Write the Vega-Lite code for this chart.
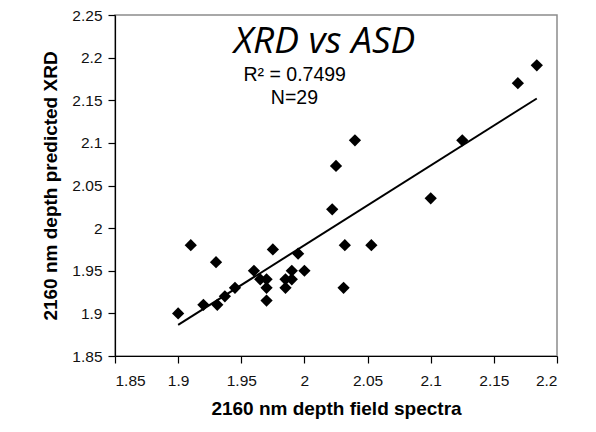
{
  "$schema": "https://vega.github.io/schema/vega-lite/v6.json",
  "width": 442,
  "height": 341,
  "autosize": "none",
  "padding": {"left": 115, "top": 15, "right": 39, "bottom": 76},
  "background": "white",
  "config": {
    "view": {"stroke": "#8c8c8c", "strokeWidth": 1.5},
    "axis": {
      "grid": false,
      "domainColor": "black",
      "domainWidth": 1.2,
      "tickColor": "black",
      "tickWidth": 1.2,
      "tickSize": 7,
      "labelFont": "Liberation Sans",
      "labelFontSize": 15.5,
      "labelColor": "#111",
      "titleFont": "Liberation Sans",
      "titleFontSize": 19,
      "titleFontWeight": "bold",
      "titleColor": "black"
    }
  },
  "datasets": {
    "points": [
      {"asd": 1.900, "xrd": 1.900},
      {"asd": 1.910, "xrd": 1.980},
      {"asd": 1.920, "xrd": 1.910},
      {"asd": 1.930, "xrd": 1.960},
      {"asd": 1.931, "xrd": 1.910},
      {"asd": 1.937, "xrd": 1.920},
      {"asd": 1.945, "xrd": 1.930},
      {"asd": 1.960, "xrd": 1.950},
      {"asd": 1.965, "xrd": 1.940},
      {"asd": 1.970, "xrd": 1.940},
      {"asd": 1.970, "xrd": 1.930},
      {"asd": 1.970, "xrd": 1.915},
      {"asd": 1.975, "xrd": 1.975},
      {"asd": 1.985, "xrd": 1.930},
      {"asd": 1.985, "xrd": 1.940},
      {"asd": 1.990, "xrd": 1.950},
      {"asd": 1.990, "xrd": 1.940},
      {"asd": 1.995, "xrd": 1.970},
      {"asd": 2.000, "xrd": 1.950},
      {"asd": 2.022, "xrd": 2.022},
      {"asd": 2.025, "xrd": 2.073},
      {"asd": 2.032, "xrd": 1.980},
      {"asd": 2.031, "xrd": 1.930},
      {"asd": 2.040, "xrd": 2.103},
      {"asd": 2.053, "xrd": 1.980},
      {"asd": 2.100, "xrd": 2.035},
      {"asd": 2.125, "xrd": 2.103},
      {"asd": 2.169, "xrd": 2.170},
      {"asd": 2.184, "xrd": 2.191}
    ],
    "heading": [
      {"asd": 2.0159, "xrd": 2.2054, "label": "XRD vs ASD"}
    ],
    "stats": [
      {"asd": 1.9923, "xrd": 2.1729, "label": "R² = 0.7499"},
      {"asd": 1.9921, "xrd": 2.1452, "label": "N=29"}
    ]
  },
  "layer": [
    {
      "data": {"name": "points"},
      "mark": {"type": "point", "shape": "diamond", "filled": true, "color": "black", "opacity": 1, "size": 150},
      "encoding": {
        "x": {
          "field": "asd", "type": "quantitative",
          "scale": {"domain": [1.85, 2.2], "zero": false, "nice": false},
          "axis": {
            "title": "2160 nm depth field spectra",
            "values": [1.85, 1.9, 1.95, 2, 2.05, 2.1, 2.15, 2.2],
            "format": "~g",
            "labelPadding": 10,
            "titlePadding": 11
          }
        },
        "y": {
          "field": "xrd", "type": "quantitative",
          "scale": {"domain": [1.85, 2.25], "zero": false, "nice": false},
          "axis": {
            "title": "2160 nm depth predicted XRD",
            "values": [1.85, 1.9, 1.95, 2, 2.05, 2.1, 2.15, 2.2, 2.25],
            "format": "~g",
            "labelPadding": 6,
            "titlePadding": 11
          }
        }
      }
    },
    {
      "data": {"name": "points"},
      "transform": [{"regression": "xrd", "on": "asd"}],
      "mark": {"type": "line", "color": "black", "strokeWidth": 2},
      "encoding": {
        "x": {"field": "asd", "type": "quantitative"},
        "y": {"field": "xrd", "type": "quantitative"}
      }
    },
    {
      "data": {"name": "heading"},
      "mark": {"type": "text", "font": "Open Sans", "fontStyle": "italic", "fontSize": 37, "color": "black", "align": "center", "baseline": "alphabetic"},
      "encoding": {
        "x": {"field": "asd", "type": "quantitative"},
        "y": {"field": "xrd", "type": "quantitative"},
        "text": {"field": "label"}
      }
    },
    {
      "data": {"name": "stats"},
      "mark": {"type": "text", "font": "Liberation Sans", "fontSize": 19.5, "color": "black", "align": "center", "baseline": "alphabetic"},
      "encoding": {
        "x": {"field": "asd", "type": "quantitative"},
        "y": {"field": "xrd", "type": "quantitative"},
        "text": {"field": "label"}
      }
    }
  ]
}
